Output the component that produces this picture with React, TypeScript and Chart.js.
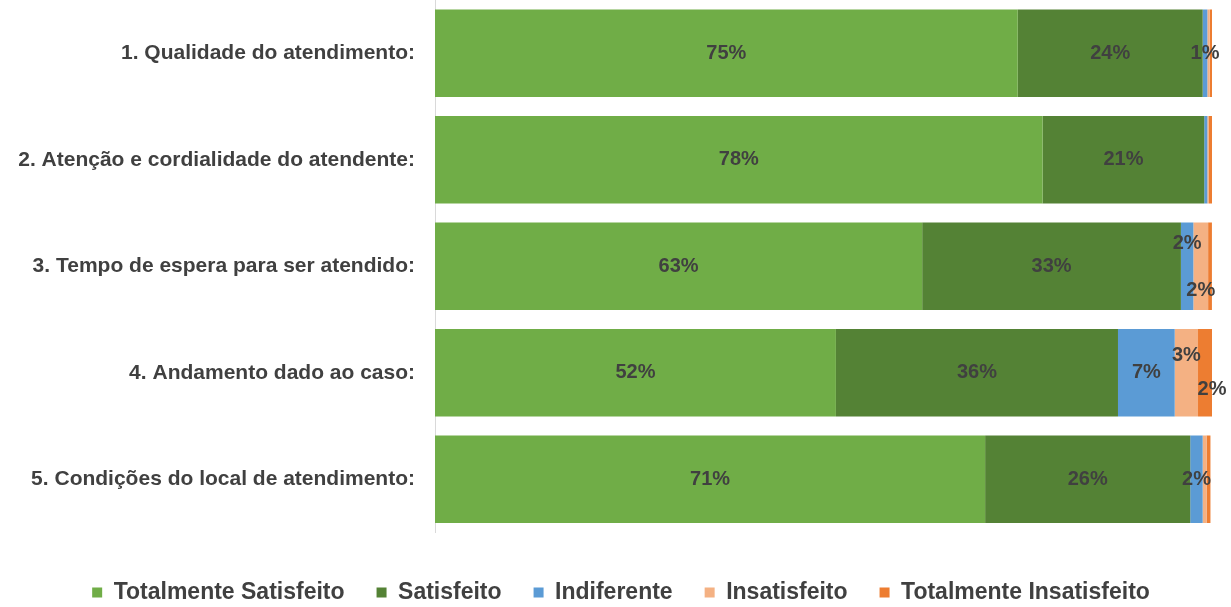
import React, { useEffect, useRef } from "react";
import { Chart, registerables } from "chart.js";

Chart.register(...registerables);

const categories = [
  "1. Qualidade do atendimento:",
  "2. Atenção e cordialidade do atendente:",
  "3. Tempo de espera para ser atendido:",
  "4. Andamento dado ao caso:",
  "5. Condições do local de atendimento:",
];
const seriesNames = [
  "Totalmente Satisfeito",
  "Satisfeito",
  "Indiferente",
  "Insatisfeito",
  "Totalmente Insatisfeito",
];
const totalmenteSatisfeito = [75.0, 78.2, 62.7, 51.6, 70.8];
const satisfeito = [23.8, 20.8, 33.3, 36.3, 26.4];
const indiferente = [0.6, 0.4, 1.6, 7.3, 1.6];
const insatisfeito = [0.3, 0.2, 1.9, 3.0, 0.5];
const totalmenteInsatisfeito = [0.3, 0.4, 0.49, 1.8, 0.5];

const seriesValues = [
  totalmenteSatisfeito,
  satisfeito,
  indiferente,
  insatisfeito,
  totalmenteInsatisfeito,
];
const seriesColors = ["#70AD47", "#548235", "#5B9BD5", "#F4B183", "#ED7D31"];

const FONT = "'Liberation Sans', Arial, sans-serif";
const TEXT = "#404040";

// label nudges (dataset-row) to mimic the reference placement
const labelNudge: Record<string, [number, number]> = {
  "2-2": [0, -23],
  "3-2": [0, 24],
  "3-3": [0, -17],
  "4-3": [7, 17],
};

const dataLabelPlugin = {
  id: "segLabels",
  afterLayout(chart: any) {
    const lg = chart.legend;
    if (lg) {
      lg.left += 15;
      lg.right += 15;
    }
  },
  afterDatasetsDraw(chart: any) {
    const ctx = chart.ctx;
    ctx.save();
    ctx.font = `bold 20px ${FONT}`;
    ctx.fillStyle = TEXT;
    ctx.textAlign = "center";
    ctx.textBaseline = "middle";
    chart.data.datasets.forEach((ds: any, di: number) => {
      const meta = chart.getDatasetMeta(di);
      meta.data.forEach((bar: any, i: number) => {
        const v = ds.data[i];
        if (v < 0.55) return;
        const nudge = labelNudge[`${di}-${i}`] || [0, 0];
        const x = (bar.x + bar.base) / 2 + nudge[0];
        const y = bar.y + nudge[1];
        ctx.fillText(`${Math.round(v)}%`, x, y);
      });
    });
    ctx.restore();
  },
};

export default function App() {
  const ref = useRef<HTMLCanvasElement>(null);
  useEffect(() => {
    if (!ref.current) return;
    const chart = new Chart(ref.current, {
      type: "bar",
      data: {
        labels: categories,
        datasets: seriesNames.map((n, i) => ({
          label: n,
          data: seriesValues[i],
          backgroundColor: seriesColors[i],
          borderWidth: 0,
          barPercentage: 0.82,
          categoryPercentage: 1,
        })),
      },
      options: {
        indexAxis: "y",
        animation: false,
        responsive: false,
        layout: { padding: { left: 0, right: 19, top: 0, bottom: 0 } },
        scales: {
          x: { stacked: true, min: 0, max: 100, display: false },
          y: {
            stacked: true,
            grid: { display: false, drawTicks: false },
            border: { display: true, color: "#d9d9d9", width: 1 },
            ticks: {
              padding: 20,
              color: TEXT,
              font: { family: FONT, weight: "bold", size: 21 },
            },
            afterFit: (s: any) => {
              s.width = 435;
              s.paddingTop = 0;
              s.paddingBottom = 0;
            },
          },
        },
        plugins: {
          tooltip: { enabled: false },
          legend: {
            position: "bottom",
            title: { display: true, text: "", padding: { top: 0, bottom: 4.5 }, font: { size: 10 } },
            labels: {
              boxWidth: 10,
              boxHeight: 10,
              padding: 32,
              color: TEXT,
              font: { family: FONT, weight: "bold", size: 23 },
            },
          },
        },
      },
      plugins: [dataLabelPlugin],
    });
    return () => chart.destroy();
  }, []);
  return (
    <div style={{ position: "fixed", left: 0, top: 0, width: 1231, height: 607, overflow: "hidden", background: "#fff" }}>
      <canvas ref={ref} width={1231} height={614} style={{ display: "block" }} />
    </div>
  );
}
